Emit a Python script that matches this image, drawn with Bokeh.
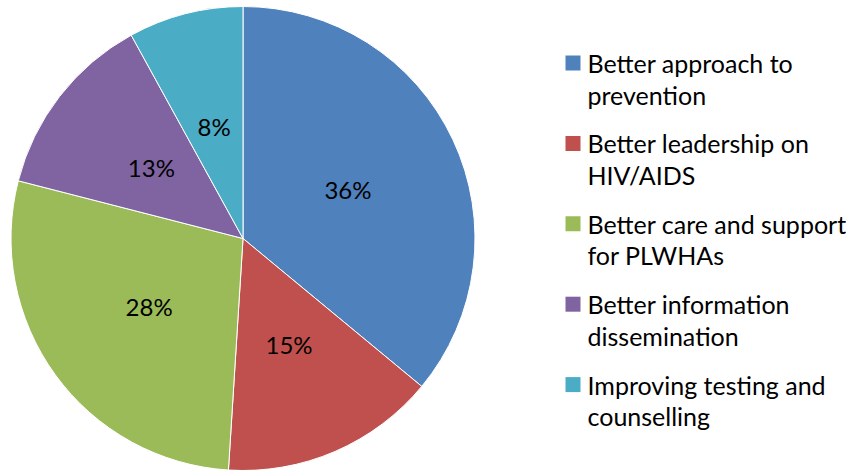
import math
from bokeh.plotting import figure
from bokeh.models import Range1d, ColumnDataSource
from bokeh.core.properties import value
from bokeh.embed import file_html
from bokeh.resources import INLINE

categories = [
    "Better approach to\nprevention",
    "Better leadership on\nHIV/AIDS",
    "Better care and support\nfor PLWHAs",
    "Better information\ndissemination",
    "Improving testing and\ncounselling",
]
shares = [36, 15, 28, 13, 8]
colors = ["#4F81BD", "#C0504D", "#9BBB59", "#8064A2", "#4BACC6"]

W, H = 846, 470
p = figure(width=W, height=H, output_backend="svg", toolbar_location=None,
           x_range=Range1d(0, W), y_range=Range1d(0, H),
           min_border=0, outline_line_color=None)
p.axis.visible = False
p.grid.visible = False
p.background_fill_color = "white"
p.border_fill_color = "white"

cx, cy, r = 242.5, 470 - 238, 232
total = sum(shares)
starts, ends, lx, ly, labels = [], [], [], [], []
acc = 0.0
for s in shares:
    a0 = math.pi / 2 - acc / total * 2 * math.pi
    acc += s
    a1 = math.pi / 2 - acc / total * 2 * math.pi
    starts.append(a0)
    ends.append(a1)
    mid = (a0 + a1) / 2
    lx.append(cx + 0.5 * r * math.cos(mid))
    ly.append(cy + 0.5 * r * math.sin(mid))
    labels.append(f"{s}%")

src = ColumnDataSource(dict(start=starts, end=ends, color=colors))
p.wedge(x=cx, y=cy, radius=r, start_angle="start", end_angle="end",
        direction="clock", fill_color="color", line_color="white",
        line_width=1, source=src)

p.text(x=lx, y=ly, text=labels, text_align="center", text_baseline="middle",
       text_font=value("Lato"), text_font_size="24px", text_color="black")

# legend
sq_x0, sq = 565, 15
txt_x = 587
first_c, step, line_gap = 62.5, 80.4, 31.5
rx, ry, rc = [], [], []
tx, ty, tt = [], [], []
for i, (name, c) in enumerate(zip(categories, colors)):
    yc = 470 - (first_c + step * i)
    rx.append(sq_x0 + sq / 2)
    ry.append(yc)
    rc.append(c)
    for j, line in enumerate(name.split("\n")):
        tx.append(txt_x)
        ty.append(yc - j * line_gap)
        tt.append(line)
p.rect(x=rx, y=ry, width=sq, height=sq, fill_color=rc, line_color=None)
p.text(x=tx, y=ty, text=tt, text_align="left", text_baseline="middle",
       text_font=value("Lato"), text_font_size="25px", text_color="black")

open("out.html", "w").write(file_html(p, INLINE))
